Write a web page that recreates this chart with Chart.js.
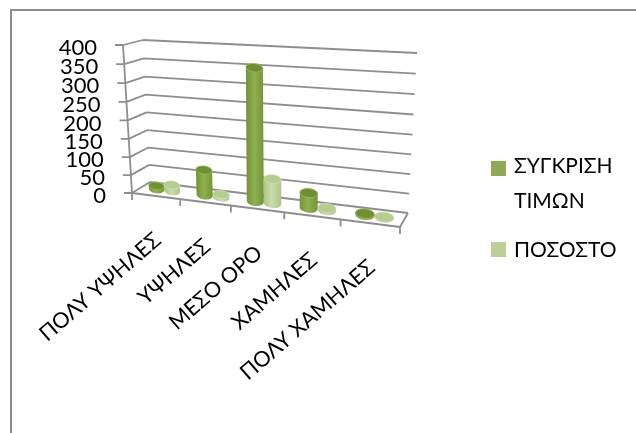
<!DOCTYPE html>
<html>
<head>
<meta charset="utf-8">
<style>
  html, body { margin: 0; padding: 0; background: #fff; }
  canvas { display: block; }
</style>
<script src="https://cdn.jsdelivr.net/npm/chart.js@4"></script>
</head>
<body>
<canvas id="chart" width="636" height="433"></canvas>
<script>
const categories = ['ΠΟΛΎ ΥΨΗΛΕΣ', 'ΥΨΗΛΕΣ', 'ΜΕΣΟ ΟΡΟ', 'ΧΑΜΗΛΕΣ', 'ΠΟΛΎ ΧΑΜΗΛΕΣ'];
const comparison = [10, 70, 352, 40, 4];
const percentage = [18, 8, 66, 6, 1];
const yTicks = { min: 0, max: 400, step: 50 };
const seriesNames = [['ΣΥΓΚΡΙΣΗ', 'ΤΙΜΩΝ'], ['ΠΟΣΟΣΤΟ']];

const FONT = 'Lato, "Open Sans", sans-serif';
const GRID = '#8e8e8e';

// Corners of the box in canvas space: front and back planes, bottom and top edges.
const box = {
  front: { bl: [132, 193], br: [400, 227], tl: [123, 45], tr: [407, 61] },
  back:  { bl: [150, 182], br: [408, 213], tl: [143, 40], tr: [417, 53] }
};
const mix = (a, b, t) => [a[0] + (b[0] - a[0]) * t, a[1] + (b[1] - a[1]) * t];
const persp = (t, k) => t / (t + k * (1 - t));

// u: along the categories, v: depth, w: up the value axis (all 0..1).
function project(u, v, w) {
  const pu = persp(u, 1.14), pw = persp(w, 1.04);
  const f = mix(mix(box.front.bl, box.front.br, pu), mix(box.front.tl, box.front.tr, pu), pw);
  const b = mix(mix(box.back.bl, box.back.br, pu), mix(box.back.tl, box.back.tr, pu), pw);
  return mix(f, b, v);
}
const segment = (ctx, a, b) => { ctx.moveTo(a[0], a[1]); ctx.lineTo(b[0], b[1]); };

// Each bar is drawn as a cylinder standing on the floor of the box.
const BAR_DEPTH = 0.5;
const shades = {
  '#8fa956': { edge: '#749437', mid: '#8fb04f', cap: '#6f9133', rim: '#9fba66' },
  '#bcd09a': { edge: '#adc488', mid: '#cbdcad', cap: '#b7cc90', rim: '#d0deb3' }
};
let plotArea = null;
Chart.BarElement.prototype.draw = function (ctx) {
  const area = plotArea;
  const toU = px => (px - area.left) / (area.right - area.left);
  const toW = py => (area.bottom - py) / (area.bottom - area.top);
  const base = project(toU(this.x), BAR_DEPTH, toW(this.base));
  const top = project(toU(this.x), BAR_DEPTH, toW(this.y));
  const edgeL = project(toU(this.x - this.width / 2), BAR_DEPTH, 0);
  const edgeR = project(toU(this.x + this.width / 2), BAR_DEPTH, 0);
  const rx = (edgeR[0] - edgeL[0]) / 2;
  const ry = rx * 0.5;
  const rot = 0.12;
  const tone = shades[this.options.backgroundColor];

  const grad = ctx.createLinearGradient(base[0] - rx, 0, base[0] + rx, 0);
  grad.addColorStop(0, tone.edge);
  grad.addColorStop(0.45, tone.mid);
  grad.addColorStop(1, tone.edge);

  ctx.save();
  ctx.beginPath();
  ctx.ellipse(base[0], base[1], rx, ry, rot, 0, Math.PI);
  ctx.ellipse(top[0], top[1], rx, ry, rot, Math.PI, Math.PI * 2);
  ctx.closePath();
  ctx.fillStyle = grad;
  ctx.fill();

  ctx.beginPath();
  ctx.ellipse(top[0], top[1], rx, ry, rot, 0, Math.PI * 2);
  ctx.fillStyle = tone.cap;
  ctx.fill();
  ctx.strokeStyle = tone.rim;
  ctx.lineWidth = 0.8;
  ctx.stroke();
  ctx.restore();
};

const boxPlugin = {
  id: 'box',
  beforeDatasetsDraw(chart) {
    const { ctx, chartArea: area } = chart;
    plotArea = area;
    const yScale = chart.scales.y, xScale = chart.scales.x;
    const toW = py => (area.bottom - py) / (area.bottom - area.top);

    // Outer frame, open on the right and at the bottom
    ctx.save();
    ctx.strokeStyle = '#8c8c8c';
    ctx.lineWidth = 2;
    ctx.beginPath();
    ctx.moveTo(11, 433); ctx.lineTo(11, 10); ctx.lineTo(636, 10);
    ctx.stroke();

    ctx.strokeStyle = GRID;
    ctx.lineWidth = 1.8;
    ctx.beginPath();
    // Value gridlines on the back wall and side wall, with their ticks
    yScale.ticks.forEach(tick => {
      const w = toW(yScale.getPixelForValue(tick.value));
      const fl = project(0, 0, w), bl = project(0, 1, w), br = project(1, 1, w);
      segment(ctx, fl, bl);
      segment(ctx, bl, br);
      segment(ctx, [fl[0] - 8, fl[1]], fl);
    });
    // Side wall upright and the floor outline
    segment(ctx, project(0, 0, 1), project(0, 0, 0));
    segment(ctx, project(0, 0, 0), project(1, 0, 0));
    segment(ctx, project(1, 0, 0), project(1, 1, 0));
    // Category ticks along the front edge
    const n = categories.length;
    for (let i = 0; i <= n; i++) {
      const p = project(i / n, 0, 0);
      segment(ctx, p, [p[0], p[1] + 7]);
    }
    ctx.stroke();

    // Value labels follow the slanted axis
    ctx.fillStyle = '#000';
    ctx.font = '22px ' + FONT;
    ctx.textAlign = 'right';
    ctx.textBaseline = 'middle';
    yScale.ticks.forEach(tick => {
      const w = toW(yScale.getPixelForValue(tick.value));
      const p = project(0, 0, w);
      ctx.fillText(String(tick.value), p[0] - 26, p[1] + 3);
    });

    // Category labels, turned to run up towards each tick
    ctx.font = '21.5px ' + FONT;
    ctx.textAlign = 'right';
    categories.forEach((label, i) => {
      const u = (xScale.getPixelForValue(i) - area.left) / (area.right - area.left);
      const p = project(u, 0, 0);
      ctx.save();
      ctx.translate(p[0] + 2, p[1] + 41);
      ctx.rotate(-41 * Math.PI / 180);
      ctx.fillText(label, 0, 0);
      ctx.restore();
    });

    // Legend
    const legendRows = [
      { swatch: [491, 161], lines: [[514, 166], [514, 201]] },
      { swatch: [491, 242], lines: [[514, 250]] }
    ];
    ctx.textAlign = 'left';
    ctx.font = '21px ' + FONT;
    chart.data.datasets.forEach((ds, i) => {
      const row = legendRows[i];
      ctx.fillStyle = ds.backgroundColor;
      ctx.fillRect(row.swatch[0], row.swatch[1], 15, 15);
      ctx.fillStyle = '#000';
      seriesNames[i].forEach((line, j) => ctx.fillText(line, row.lines[j][0], row.lines[j][1]));
    });
    ctx.restore();
  }
};

new Chart(document.getElementById('chart'), {
  type: 'bar',
  data: {
    labels: categories,
    datasets: [
      { label: seriesNames[0].join(' '), data: comparison, backgroundColor: '#8fa956',
        categoryPercentage: 0.66, barPercentage: 1, clip: false },
      { label: seriesNames[1].join(' '), data: percentage, backgroundColor: '#bcd09a',
        categoryPercentage: 0.66, barPercentage: 1, clip: false }
    ]
  },
  options: {
    responsive: false,
    animation: false,
    events: [],
    layout: { padding: { left: 132, right: 236, top: 45, bottom: 238 } },
    plugins: { legend: { display: false }, tooltip: { enabled: false } },
    scales: {
      x: { display: false },
      y: { display: false, min: yTicks.min, max: yTicks.max, ticks: { stepSize: yTicks.step } }
    }
  },
  plugins: [boxPlugin]
});
</script>
</body>
</html>
